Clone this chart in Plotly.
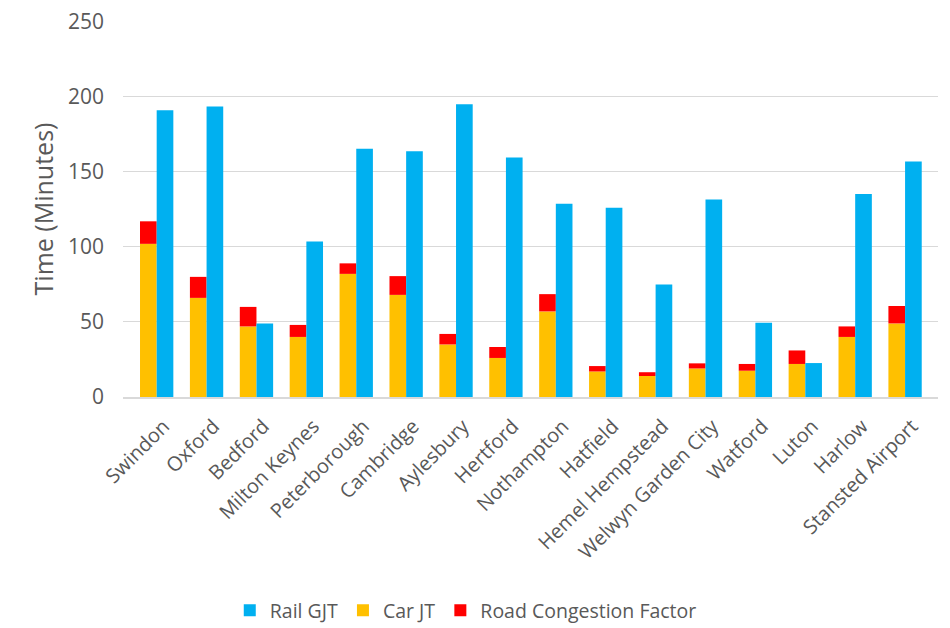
import plotly.graph_objects as go

categories = ["Swindon", "Oxford", "Bedford", "Milton Keynes", "Peterborough", "Cambridge",
              "Aylesbury", "Hertford", "Nothampton", "Hatfield", "Hemel Hempstead",
              "Welwyn Garden City", "Watford", "Luton", "Harlow", "Stansted Airport"]
rail_gjt = [191, 193.5, 49, 103.6, 165.4, 163.6, 194.9, 159.5, 128.7, 126, 75, 131.5, 49.5, 22.6, 135.2, 156.8]
car_jt = [102, 66, 47, 40, 82, 68, 35, 26, 57, 17, 14, 19, 17.5, 22, 40, 49]
congestion = [15, 14, 13, 8, 7, 12.5, 7, 7.3, 11.5, 3.6, 2.5, 3.4, 4.5, 9, 7, 11.6]

W = 0.334
fig = go.Figure()
fig.add_trace(go.Bar(x=categories, y=car_jt, name="Car JT", marker_color="#FFC000",
                     width=W, offset=-W, legendrank=2, marker_line_width=0))
fig.add_trace(go.Bar(x=categories, y=congestion, base=car_jt, name="Road Congestion Factor",
                     marker_color="#FF0000", width=W, offset=-W, legendrank=3, marker_line_width=0))
fig.add_trace(go.Bar(x=categories, y=rail_gjt, name="Rail GJT", marker_color="#00B0F0",
                     width=W, offset=0, legendrank=1, marker_line_width=0))

fig.update_layout(
    width=950, height=628,
    barmode="overlay",
    paper_bgcolor="white", plot_bgcolor="white",
    margin=dict(l=123, r=12, t=21, b=231, autoexpand=False),
    font=dict(family="Open Sans, Liberation Sans, sans-serif", color="#595959", size=20),
    yaxis=dict(range=[0, 250.4], tickvals=[0, 50, 100, 150, 200, 250],
               gridcolor="#D9D9D9", gridwidth=1.3,
               zeroline=False, showline=False, ticks="", ticklen=0,
               ticklabelstandoff=18, automargin=False,
               title=dict(text="Time (Minutes)", font=dict(size=25), standoff=7),
               tickfont=dict(size=21)),
    xaxis=dict(tickangle=-45, showline=True, linecolor="#D9D9D9", linewidth=1.5,
               tickfont=dict(size=20), range=[-0.675, 15.66], automargin=False,
               ticklabelstandoff=8, ticklabelshift=7),
    legend=dict(orientation="h", x=0.131, xanchor="left", y=-0.568, yanchor="middle",
                font=dict(size=19.5), itemwidth=30, traceorder="normal"),
    showlegend=True,
)
fig.write_html("out.html", config={"displayModeBar": False},
               post_script="document.body.style.margin='0';")
